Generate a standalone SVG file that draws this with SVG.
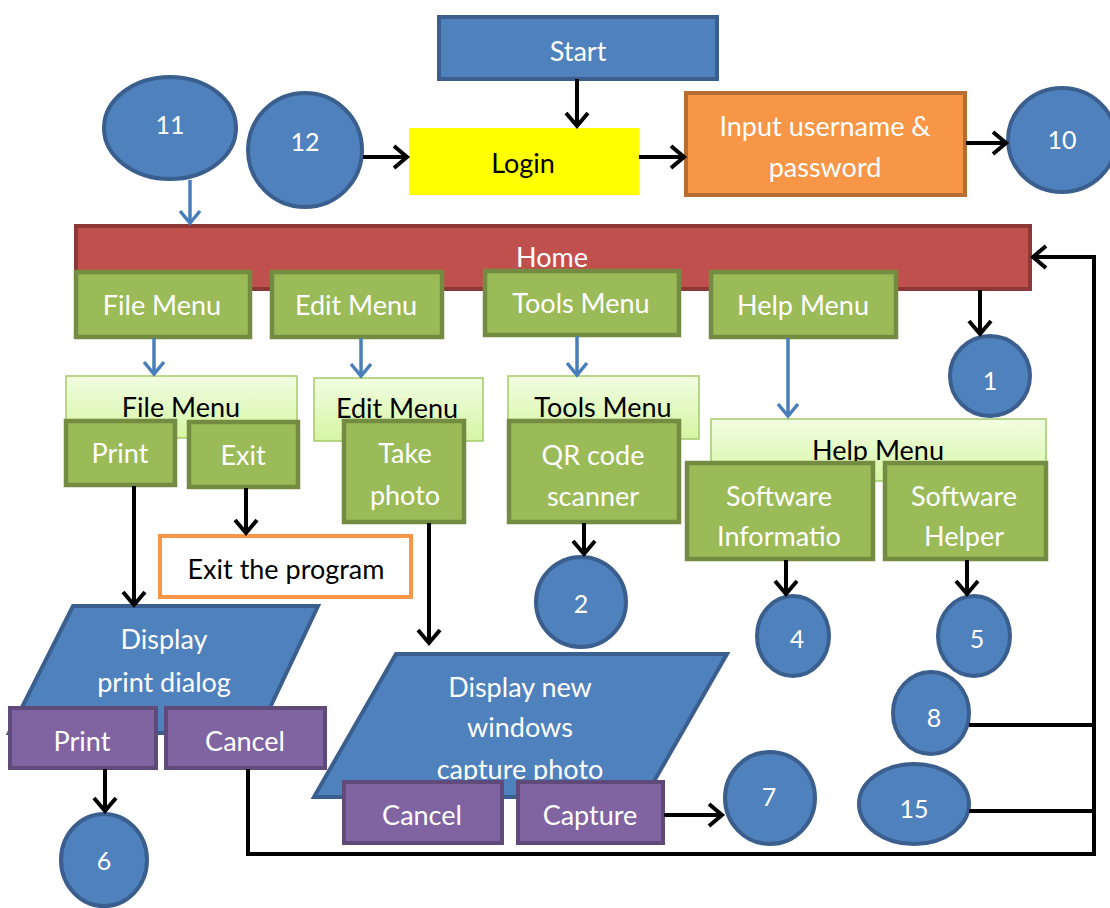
<svg xmlns="http://www.w3.org/2000/svg" width="1110" height="908" viewBox="0 0 1110 908">
<style>
.blue{fill:#4f81bd;stroke:#3a5f8f;stroke-width:4}
.green{fill:#9bbb59;stroke:#738c42;stroke-width:4.5}
.lg{fill:url(#lgGrad);stroke:#a5c96a;stroke-width:1.5}
.purple{fill:#8064a2;stroke:#5f4a7a;stroke-width:4}
.t{font-family:Lato,"Liberation Sans",sans-serif;font-size:27px;text-anchor:middle;dominant-baseline:central}
.n{font-size:25px}
.w{fill:#fff}
.k{fill:#000}
.c{fill:none;stroke:#000;stroke-width:4}
.cb{fill:none;stroke:#4a7ebb;stroke-width:3.5}
</style>
<defs>
<linearGradient id="lgGrad" x1="0" y1="0" x2="0" y2="1">
<stop offset="0" stop-color="#f1fde2"/>
<stop offset="1" stop-color="#d6f5a3"/>
</linearGradient>
<marker id="ak" markerUnits="userSpaceOnUse" viewBox="-16 -14 20 28" markerWidth="20" markerHeight="28" refX="0" refY="0" orient="auto">
<path d="M-13,-11 L0,0 L-13,11" fill="none" stroke="#000" stroke-width="4"/>
</marker>
<marker id="ab" markerUnits="userSpaceOnUse" viewBox="-16 -14 20 28" markerWidth="20" markerHeight="28" refX="0" refY="0" orient="auto">
<path d="M-12,-10 L0,0 L-12,10" fill="none" stroke="#4a7ebb" stroke-width="3.5"/>
</marker>
</defs>
<rect width="1110" height="908" fill="#fff"/>

<g id="start"><rect class="blue" x="439" y="17" width="278" height="62"/><text class="t w" x="578" y="50">Start</text></g>
<g id="login"><rect x="409" y="128" width="230" height="67" fill="#ffff00"/><text class="t k" x="523" y="162">Login</text></g>
<g id="input"><rect x="686" y="93" width="279" height="102" fill="#f79646" stroke="#b66d31" stroke-width="4"/><text class="t w" x="825" y="125">Input username &amp;</text><text class="t w" x="825" y="166">password</text></g>
<g id="c12"><ellipse class="blue" cx="305" cy="150" rx="57" ry="57"/><text class="t w n" x="305" y="141">12</text></g>
<g id="c11"><ellipse class="blue" cx="170" cy="128" rx="66" ry="51"/><text class="t w n" x="170" y="124">11</text></g>
<g id="c10"><ellipse class="blue" cx="1062" cy="140" rx="54" ry="52"/><text class="t w n" x="1062" y="139">10</text></g>

<g id="home"><rect x="76" y="226" width="954" height="63" fill="#c0504d" stroke="#8c3836" stroke-width="4"/><text class="t w" x="552" y="256">Home</text></g>
<g id="fileMenu"><rect class="green" x="76" y="272" width="174" height="65"/><text class="t w" x="162" y="304">File Menu</text></g>
<g id="editMenu"><rect class="green" x="272" y="272" width="170" height="65"/><text class="t w" x="356" y="304">Edit Menu</text></g>
<g id="toolsMenu"><rect class="green" x="485" y="271" width="194" height="64"/><text class="t w" x="581" y="302">Tools Menu</text></g>
<g id="helpMenu"><rect class="green" x="711" y="272" width="185" height="65"/><text class="t w" x="803" y="304">Help Menu</text></g>
<g id="c1"><ellipse class="blue" cx="990" cy="376" rx="40" ry="40"/><text class="t w n" x="990" y="380">1</text></g>

<g id="fileMenuPanel"><rect class="lg" x="66" y="376" width="231" height="62"/><text class="t k" x="181" y="406">File Menu</text></g>
<g id="editMenuPanel"><rect class="lg" x="314" y="378" width="169" height="63"/><text class="t k" x="397" y="407">Edit Menu</text></g>
<g id="toolsMenuPanel"><rect class="lg" x="508" y="376" width="191" height="63"/><text class="t k" x="603" y="406">Tools Menu</text></g>
<g id="helpMenuPanel"><rect class="lg" x="711" y="419" width="335" height="62"/><text class="t k" x="878" y="449">Help Menu</text></g>

<g id="print"><rect class="green" x="66" y="421" width="109" height="64"/><text class="t w" x="120" y="452">Print</text></g>
<g id="exit"><rect class="green" x="189" y="422" width="109" height="65"/><text class="t w" x="243" y="454">Exit</text></g>
<g id="takePhoto"><rect class="green" x="344" y="421" width="120" height="101"/><text class="t w" x="405" y="452">Take</text><text class="t w" x="405" y="494">photo</text></g>
<g id="qrScanner"><rect class="green" x="509" y="421" width="170" height="101"/><text class="t w" x="593" y="454">QR code</text><text class="t w" x="593" y="495">scanner</text></g>
<g id="softwareInfo"><rect class="green" x="687" y="463" width="186" height="96"/><text class="t w" x="779" y="495">Software</text><text class="t w" x="779" y="535">Informatio</text></g>
<g id="softwareHelper"><rect class="green" x="885" y="463" width="161" height="96"/><text class="t w" x="964" y="495">Software</text><text class="t w" x="964" y="535">Helper</text></g>

<g id="exitProgram"><rect x="160" y="536" width="251" height="61" fill="#fff" stroke="#f79646" stroke-width="4"/><text class="t k" x="286" y="568">Exit the program</text></g>
<g id="c2"><ellipse class="blue" cx="581" cy="602" rx="45" ry="45"/><text class="t w n" x="581" y="603">2</text></g>
<g id="c4"><ellipse class="blue" cx="793" cy="636" rx="36" ry="40"/><text class="t w n" x="797" y="638">4</text></g>
<g id="c5"><ellipse class="blue" cx="974" cy="636" rx="36" ry="40"/><text class="t w n" x="977" y="638">5</text></g>

<g id="printDialog"><polygon class="blue" points="73,606 318,606 258,733 9,733"/><text class="t w" x="164" y="638">Display</text><text class="t w" x="164" y="681">print dialog</text>
<rect class="purple" x="10" y="708" width="146" height="60"/><text class="t w" x="82" y="740">Print</text>
<rect class="purple" x="166" y="708" width="159" height="60"/><text class="t w" x="245" y="740">Cancel</text></g>

<g id="captureWindow"><polygon class="blue" points="396,654 727,654 645,797 314,797"/><text class="t w" x="520" y="686">Display new</text><text class="t w" x="520" y="726">windows</text><text class="t w" x="520" y="768">capture photo</text>
<rect class="purple" x="344" y="782" width="158" height="61"/><text class="t w" x="422" y="814">Cancel</text>
<rect class="purple" x="518" y="782" width="145" height="61"/><text class="t w" x="590" y="814">Capture</text></g>

<g id="c6"><ellipse class="blue" cx="104" cy="860" rx="43" ry="46"/><text class="t w n" x="104" y="860">6</text></g>
<g id="c7"><ellipse class="blue" cx="770" cy="798" rx="45" ry="46"/><text class="t w n" x="769" y="796">7</text></g>
<g id="c8"><ellipse class="blue" cx="931" cy="713" rx="38" ry="41"/><text class="t w n" x="934" y="717">8</text></g>
<g id="c15"><ellipse class="blue" cx="914" cy="804" rx="55" ry="40"/><text class="t w n" x="914" y="808">15</text></g>

<g id="connectors">
<line class="c" x1="577" y1="79" x2="577" y2="126" marker-end="url(#ak)"/>
<line class="c" x1="363" y1="157" x2="407" y2="157" marker-end="url(#ak)"/>
<line class="c" x1="639" y1="157" x2="684" y2="157" marker-end="url(#ak)"/>
<line class="c" x1="966" y1="143" x2="1006" y2="143" marker-end="url(#ak)"/>
<line class="cb" x1="190" y1="180" x2="190" y2="223" marker-end="url(#ab)"/>
<line class="cb" x1="154" y1="338" x2="154" y2="374" marker-end="url(#ab)"/>
<line class="cb" x1="361" y1="338" x2="361" y2="376" marker-end="url(#ab)"/>
<line class="cb" x1="577" y1="336" x2="577" y2="375" marker-end="url(#ab)"/>
<line class="cb" x1="788" y1="338" x2="788" y2="416" marker-end="url(#ab)"/>
<line class="c" x1="980" y1="290" x2="980" y2="334" marker-end="url(#ak)"/>
<line class="c" x1="134" y1="486" x2="134" y2="605" marker-end="url(#ak)"/>
<line class="c" x1="246" y1="488" x2="246" y2="533" marker-end="url(#ak)"/>
<line class="c" x1="429" y1="523" x2="429" y2="643" marker-end="url(#ak)"/>
<line class="c" x1="584" y1="523" x2="584" y2="554" marker-end="url(#ak)"/>
<line class="c" x1="786" y1="560" x2="786" y2="594" marker-end="url(#ak)"/>
<line class="c" x1="967" y1="560" x2="967" y2="594" marker-end="url(#ak)"/>
<line class="c" x1="105" y1="769" x2="105" y2="811" marker-end="url(#ak)"/>
<line class="c" x1="664" y1="815" x2="722" y2="815" marker-end="url(#ak)"/>
<polyline class="c" points="248,769 248,854 1094,854 1094,257 1033,257" marker-end="url(#ak)"/>
<line class="c" x1="969" y1="725" x2="1094" y2="725"/>
<line class="c" x1="969" y1="811" x2="1094" y2="811"/>
</g>
</svg>
